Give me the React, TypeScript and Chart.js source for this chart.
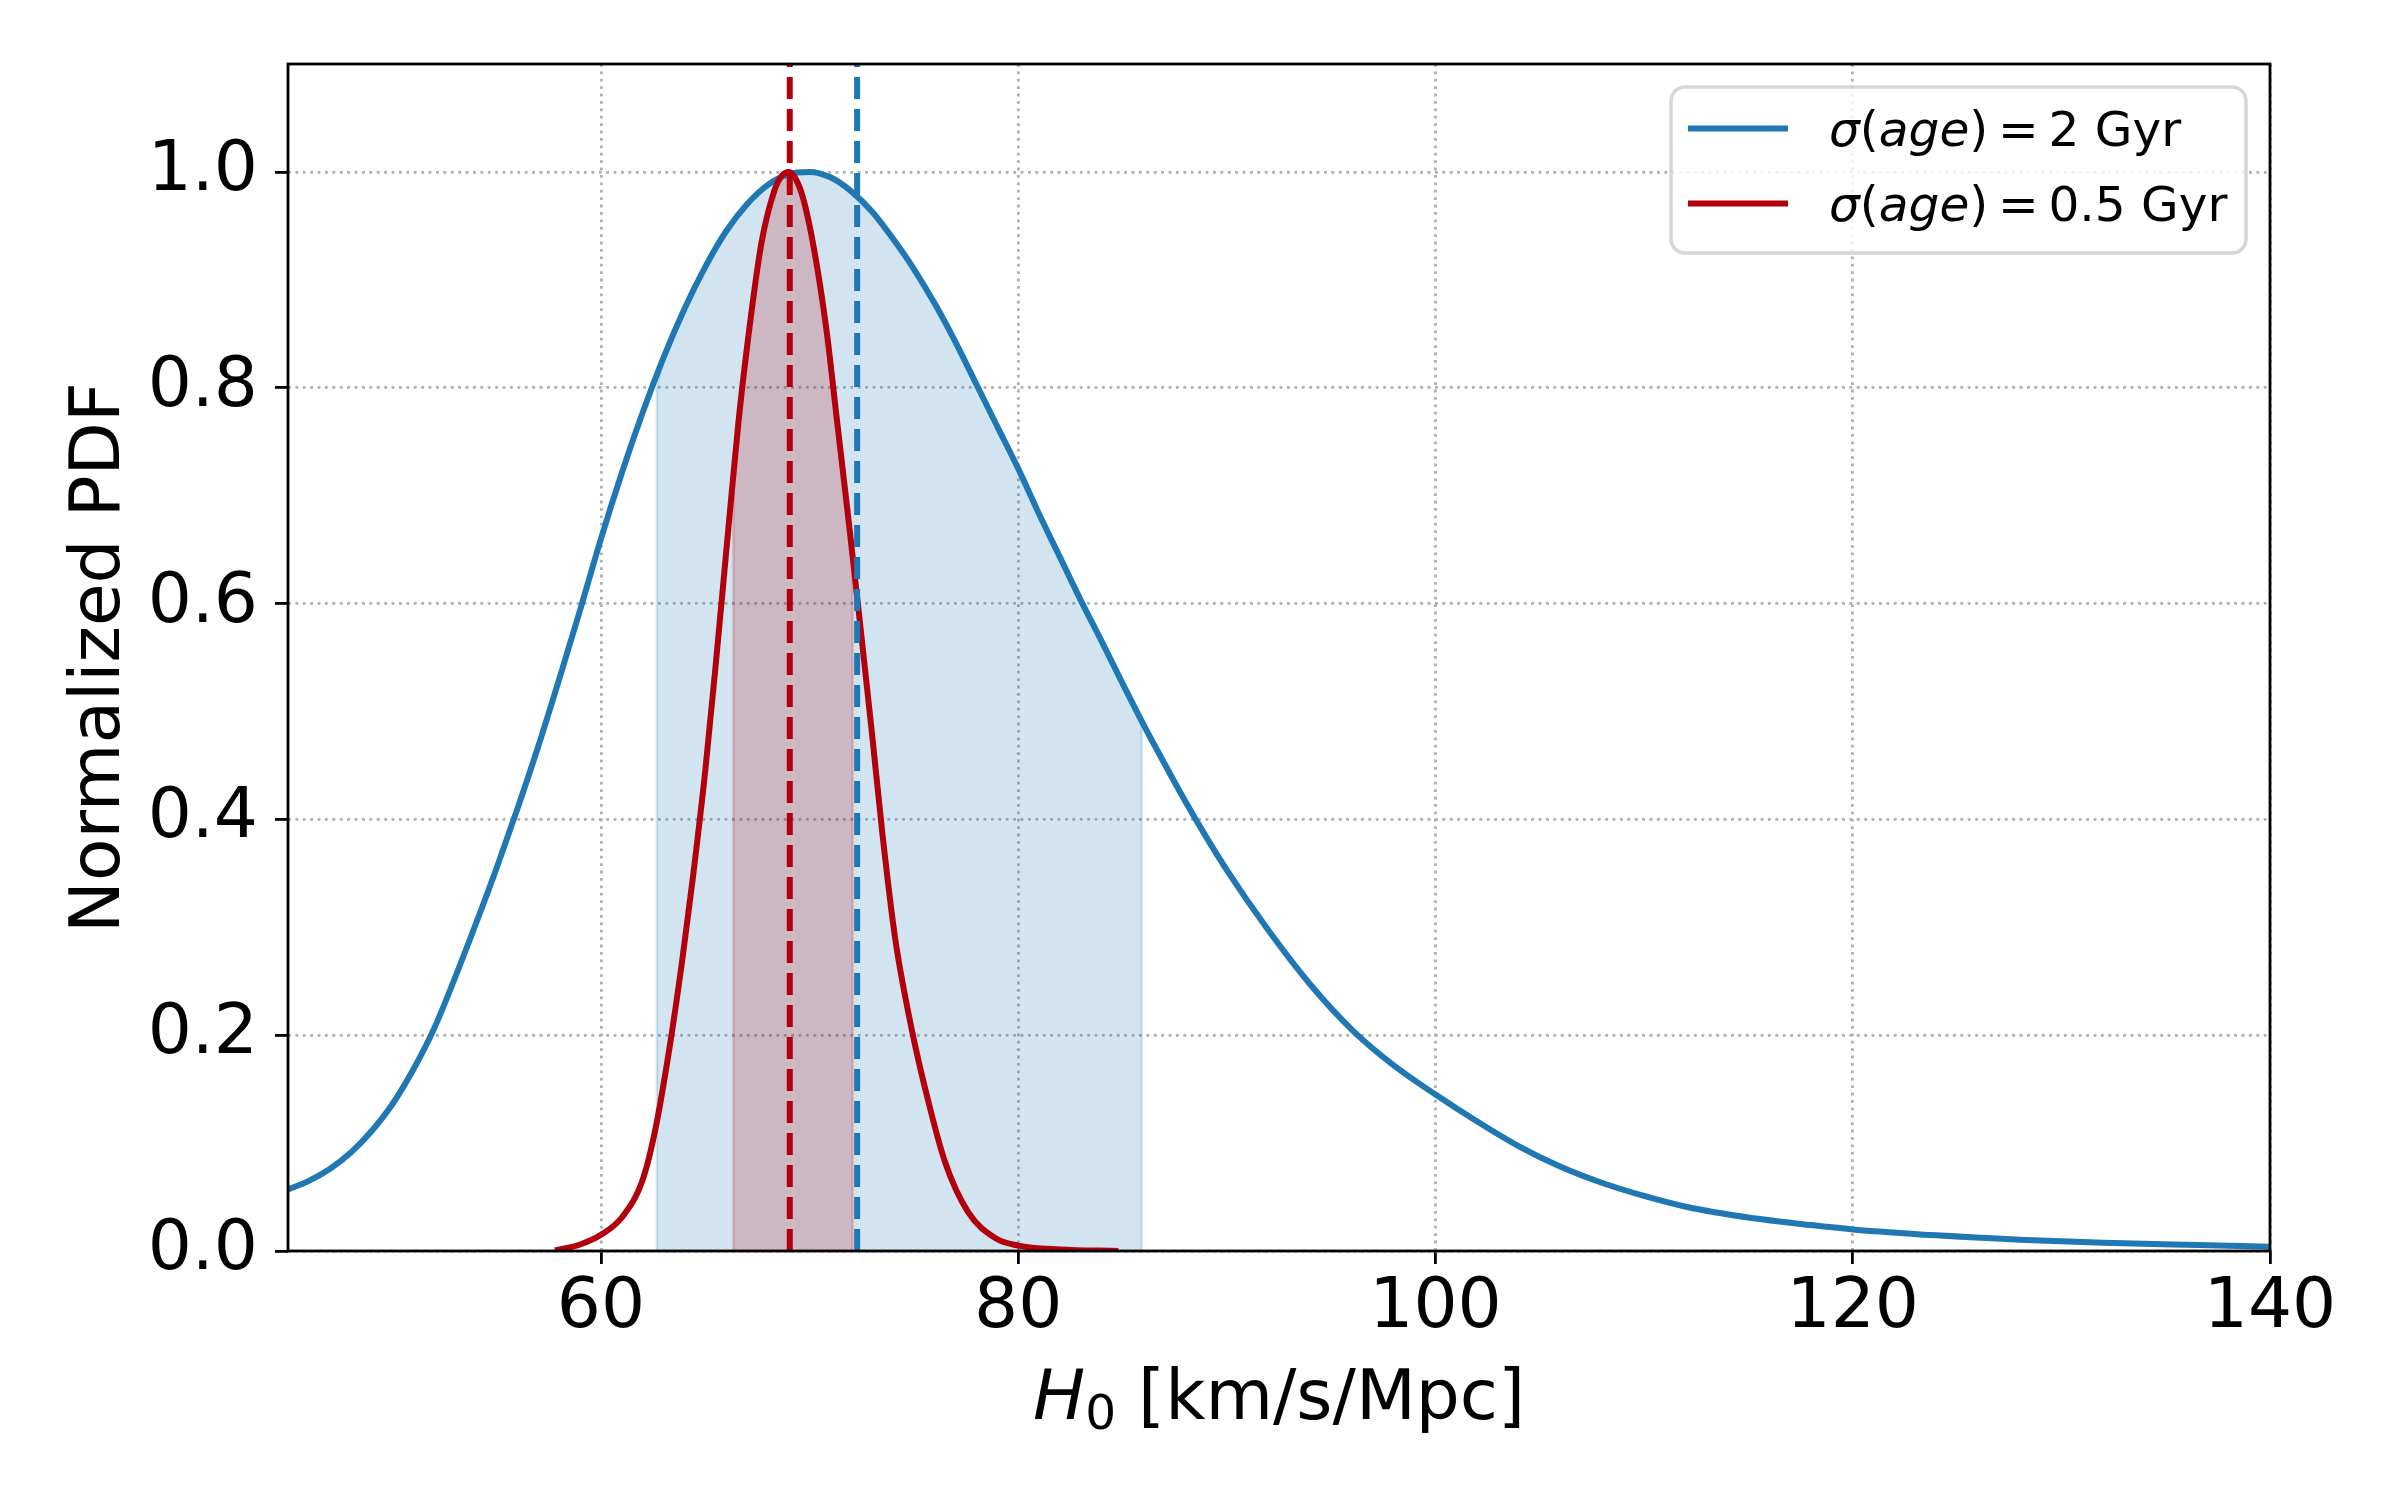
import React, { useEffect, useRef } from "react";
import { Chart, registerables, type ChartConfiguration, type Plugin } from "chart.js";

Chart.register(...registerables);

const FONT = '"DejaVu Sans", "Liberation Sans", sans-serif';
const BLUE = "#1f77b4";
const RED = "#b2000c";

// sigma(age) = 2 Gyr posterior
const blueH = [
  45, 46, 47, 48, 49, 50, 51, 52, 53, 54, 55, 56, 57, 58, 59, 60, 61, 62, 63, 64,
  65, 66, 67, 68, 69, 70, 71, 72, 73, 74, 75, 76, 77, 78, 79, 80, 81, 82, 83, 84,
  85, 86, 87, 88, 89, 90, 92, 94, 96, 98, 100, 102, 104, 106, 108, 110, 112, 115,
  118, 120, 124, 128, 132, 136, 140,
];
const bluePdf = [
  0.057, 0.065, 0.076, 0.091, 0.111, 0.136, 0.168, 0.206, 0.253, 0.303, 0.355,
  0.41, 0.468, 0.53, 0.594, 0.66, 0.721, 0.777, 0.828, 0.873, 0.912, 0.945, 0.97,
  0.988, 0.998, 1.0, 0.995, 0.982, 0.963, 0.938, 0.91, 0.878, 0.842, 0.803, 0.764,
  0.725, 0.683, 0.643, 0.603, 0.565, 0.526, 0.488, 0.452, 0.417, 0.384, 0.353,
  0.297, 0.247, 0.205, 0.172, 0.145, 0.12, 0.097, 0.078, 0.063, 0.051, 0.041,
  0.031, 0.024, 0.02, 0.0145, 0.0105, 0.0077, 0.0057, 0.004,
];

// sigma(age) = 0.5 Gyr posterior
const redH = [
  57.8, 59.0, 60.0, 61.0, 62.0, 62.6, 63.3, 63.9, 64.4, 65.0, 65.5, 66.1, 66.6,
  67.2, 67.7, 68.3, 68.65, 69.0, 69.35, 69.7, 70.2, 70.8, 71.3, 71.9, 72.4, 73.0,
  73.5, 74.1, 74.9, 75.7, 76.5, 77.6, 78.9, 80.0, 82.0, 84.8,
];
const redPdf = [
  0.0005, 0.006, 0.015, 0.031, 0.066, 0.112, 0.19, 0.27, 0.345, 0.445, 0.543,
  0.668, 0.77, 0.868, 0.935, 0.982, 0.996, 1.0, 0.993, 0.975, 0.93, 0.855, 0.772,
  0.672, 0.585, 0.478, 0.385, 0.29, 0.205, 0.138, 0.082, 0.036, 0.012, 0.005,
  0.0015, 0.0,
];

// shaded intervals: [low, high] and the curve height at each bound
const blueBand = [62.68, 85.92];
const blueBandPdf = [0.8, 0.49];
const redBand = [66.35, 72.06];
const redBandPdf = [0.72, 0.64];

// dashed markers
const blueMarker = 72.28;
const redMarker = 69.05;

const xTicks = [60, 80, 100, 120, 140];
const yTicks = [0, 0.2, 0.4, 0.6, 0.8, 1.0];

const seriesLabels = ["σ(age) = 2 Gyr", "σ(age) = 0.5 Gyr"];
const xTitle = ["H", "0", " [km/s/Mpc]"];
const yTitle = "Normalized PDF";

const LABEL_SIZE = 69.4;
const LEGEND_SIZE = 48.6;
const LINE_W = 6;

function pts(hs: number[], ps: number[]) {
  return hs.map((h, i) => ({ x: h, y: ps[i] }));
}

function band(hs: number[], ps: number[], range: number[], edge: number[]) {
  const out = [
    { x: range[0], y: 0 },
    { x: range[0], y: edge[0] },
  ];
  hs.forEach((h, i) => {
    if (h > range[0] && h < range[1]) out.push({ x: h, y: ps[i] });
  });
  out.push({ x: range[1], y: edge[1] }, { x: range[1], y: 0 });
  return out;
}

type Run = { text: string; font: string; dy?: number; before?: number; after?: number };

function runsWidth(ctx: CanvasRenderingContext2D, runs: Run[]) {
  let w = 0;
  for (const r of runs) {
    ctx.font = r.font;
    w += (r.before ?? 0) + ctx.measureText(r.text).width + (r.after ?? 0);
  }
  return w;
}

function drawRuns(ctx: CanvasRenderingContext2D, runs: Run[], x: number, y: number) {
  for (const r of runs) {
    ctx.font = r.font;
    x += r.before ?? 0;
    ctx.fillText(r.text, x, y + (r.dy ?? 0));
    x += ctx.measureText(r.text).width + (r.after ?? 0);
  }
}

// "σ(age) = 2 Gyr" -> math italic letters, upright brackets, spaced "="
function legendRuns(label: string, size: number): Run[] {
  const it = `italic ${size}px ${FONT}`;
  const rm = `${size}px ${FONT}`;
  const [lhs, rhs] = label.split(" = ");
  const runs: Run[] = [];
  for (const ch of lhs) runs.push({ text: ch, font: /[()]/.test(ch) ? rm : it });
  runs.push({ text: "=", font: rm, before: 0.2 * size, after: 0.2 * size });
  runs.push({ text: rhs, font: rm });
  return runs;
}

const decorations: Plugin<"line"> = {
  id: "decorations",
  afterDraw(chart) {
    const { ctx, chartArea: a } = chart;
    ctx.save();

    // spines
    ctx.strokeStyle = "#000";
    ctx.lineWidth = 2.8;
    ctx.setLineDash([]);
    ctx.strokeRect(a.left, a.top, a.right - a.left, a.bottom - a.top);

    ctx.fillStyle = "#000";
    ctx.textBaseline = "alphabetic";
    ctx.textAlign = "left";

    // x title
    const xr: Run[] = [
      { text: xTitle[0], font: `italic ${LABEL_SIZE}px ${FONT}` },
      { text: xTitle[1], font: `${LABEL_SIZE * 0.7}px ${FONT}`, dy: 10 },
      { text: xTitle[2], font: `${LABEL_SIZE}px ${FONT}` },
    ];
    const xw = runsWidth(ctx, xr);
    drawRuns(ctx, xr, (a.left + a.right) / 2 - xw / 2, 1419);

    // y title
    ctx.save();
    ctx.translate(119, (a.top + a.bottom) / 2);
    ctx.rotate(-Math.PI / 2);
    ctx.font = `${LABEL_SIZE}px ${FONT}`;
    ctx.textAlign = "center";
    ctx.fillText(yTitle, 0, 0);
    ctx.restore();

    // legend
    ctx.beginPath();
    ctx.roundRect(1671, 87, 575, 166, 14);
    ctx.fillStyle = "rgba(255,255,255,0.8)";
    ctx.fill();
    ctx.strokeStyle = "rgba(204,204,204,0.8)";
    ctx.lineWidth = 3.5;
    ctx.stroke();

    const colors = [BLUE, RED];
    seriesLabels.forEach((label, i) => {
      const y = 128.6 + i * 75;
      ctx.beginPath();
      ctx.moveTo(1688, y);
      ctx.lineTo(1788, y);
      ctx.strokeStyle = colors[i];
      ctx.lineWidth = LINE_W;
      ctx.stroke();
      ctx.fillStyle = "#000";
      drawRuns(ctx, legendRuns(label, LEGEND_SIZE), 1829, y + 17.5);
    });

    ctx.restore();
  },
};

const gridStyle = {
  color: "#b0b0b0",
  lineWidth: 2.8,
  drawTicks: true,
  tickLength: 13,
  tickColor: "#000",
  tickWidth: 2.8,
  tickBorderDash: [],
};

const tickFont = { family: FONT, size: LABEL_SIZE, lineHeight: 1.2 };

export default function App() {
  const canvasRef = useRef<HTMLCanvasElement | null>(null);

  useEffect(() => {
    document.body.style.margin = "0";
    if (!canvasRef.current) return;

    const config: ChartConfiguration<"line"> = {
      type: "line",
      data: {
        datasets: [
          {
            label: "band 2 Gyr",
            data: band(blueH, bluePdf, blueBand, blueBandPdf),
            borderColor: "rgba(31,119,180,0.2)",
            borderWidth: 2.5,
            backgroundColor: "rgba(31,119,180,0.2)",
            fill: "origin",
            pointRadius: 0,
            order: 6,
          },
          {
            label: "band 0.5 Gyr",
            data: band(redH, redPdf, redBand, redBandPdf),
            borderColor: "rgba(178,0,12,0.2)",
            borderWidth: 2.5,
            backgroundColor: "rgba(178,0,12,0.2)",
            fill: "origin",
            pointRadius: 0,
            order: 5,
          },
          {
            label: seriesLabels[0],
            data: pts(blueH, bluePdf),
            borderColor: BLUE,
            borderWidth: LINE_W,
            borderJoinStyle: "round",
            cubicInterpolationMode: "monotone",
            fill: false,
            pointRadius: 0,
            order: 4,
          },
          {
            label: seriesLabels[1],
            data: pts(redH, redPdf),
            borderColor: RED,
            borderWidth: LINE_W,
            borderJoinStyle: "round",
            cubicInterpolationMode: "monotone",
            fill: false,
            pointRadius: 0,
            order: 3,
          },
          {
            label: "marker 2 Gyr",
            data: [
              { x: blueMarker, y: 0 },
              { x: blueMarker, y: 1.1 },
            ],
            borderColor: BLUE,
            borderWidth: LINE_W,
            borderDash: [22, 10],
            fill: false,
            pointRadius: 0,
            order: 2,
          },
          {
            label: "marker 0.5 Gyr",
            data: [
              { x: redMarker, y: 0 },
              { x: redMarker, y: 1.1 },
            ],
            borderColor: RED,
            borderWidth: LINE_W,
            borderDash: [22, 10],
            fill: false,
            pointRadius: 0,
            order: 1,
          },
        ],
      },
      options: {
        responsive: false,
        devicePixelRatio: 1,
        animation: false,
        layout: { padding: { left: 0, top: 64, right: 130, bottom: 0 } },
        plugins: {
          legend: { display: false },
          tooltip: { enabled: false },
        },
        scales: {
          x: {
            type: "linear",
            min: 45,
            max: 140,
            afterBuildTicks: (s) => {
              s.ticks = xTicks.map((value) => ({ value }));
            },
            afterFit: (s) => {
              s.height = 249;
            },
            grid: gridStyle,
            border: { display: false, dash: [2.8, 4.6] },
            ticks: {
              font: tickFont,
              color: "#000",
              padding: 3,
              maxRotation: 0,
              autoSkip: false,
              callback: (v) => String(v),
            },
          },
          y: {
            type: "linear",
            min: 0,
            max: 1.1,
            afterBuildTicks: (s) => {
              s.ticks = yTicks.map((value) => ({ value }));
            },
            afterFit: (s) => {
              s.width = 288;
            },
            grid: gridStyle,
            border: { display: false, dash: [2.8, 4.6] },
            ticks: {
              font: tickFont,
              color: "#000",
              padding: 17,
              autoSkip: false,
              callback: (v) => Number(v).toFixed(1),
            },
          },
        },
      },
      plugins: [decorations],
    };

    const chart = new Chart(canvasRef.current, config);
    return () => {
      chart.destroy();
    };
  }, []);

  return (
    <div style={{ width: 2400, height: 1500, background: "#fff" }}>
      <canvas
        ref={canvasRef}
        width={2400}
        height={1500}
        style={{ display: "block", width: 2400, height: 1500 }}
        aria-label="Normalized H0 PDF chart"
      />
    </div>
  );
}
